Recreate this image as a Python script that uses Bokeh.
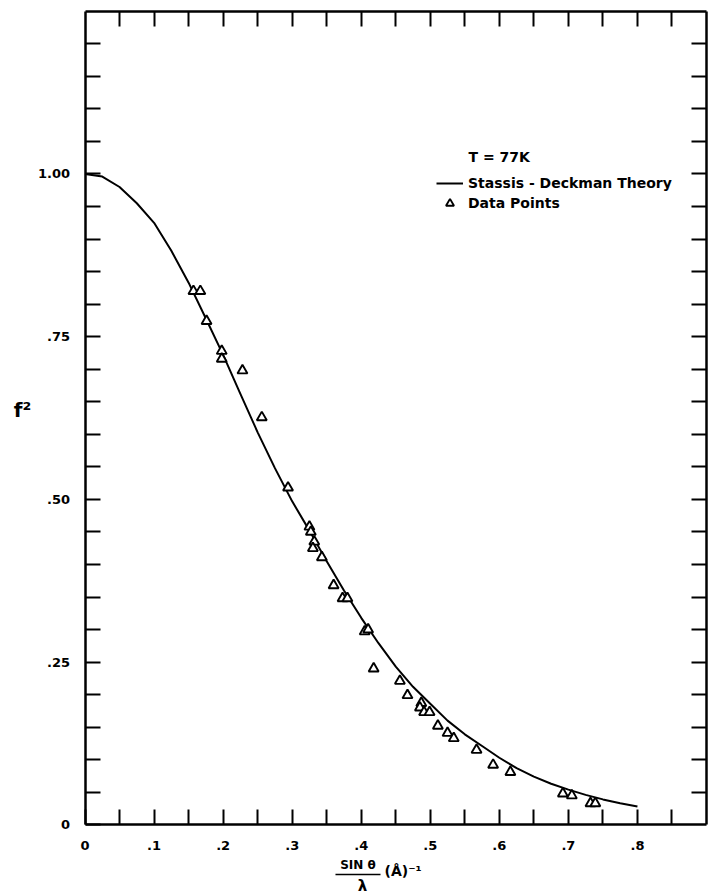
from bokeh.plotting import figure
from bokeh.models import Range1d, LinearAxis, FixedTicker, Legend
from bokeh.core.properties import value
from bokeh.embed import file_html
from bokeh.resources import INLINE

# ---- data ----
theory_s = [0.0, 0.025, 0.05, 0.075, 0.1, 0.125, 0.15, 0.175, 0.2, 0.225,
            0.25, 0.275, 0.3, 0.325, 0.35, 0.375, 0.4, 0.425, 0.45, 0.475,
            0.5, 0.525, 0.55, 0.575, 0.6, 0.625, 0.65, 0.675, 0.7, 0.725,
            0.75, 0.775, 0.8]
theory_f = [1.000, 0.996, 0.980, 0.955, 0.925, 0.882, 0.833, 0.778, 0.722,
            0.662, 0.603, 0.548, 0.497, 0.452, 0.405, 0.360, 0.318, 0.279,
            0.243, 0.212, 0.186, 0.160, 0.139, 0.121, 0.103, 0.087, 0.074,
            0.063, 0.054, 0.046, 0.039, 0.033, 0.028]

data_s = [0.157, 0.167, 0.176, 0.198, 0.198, 0.228, 0.256, 0.294, 0.325,
          0.327, 0.332, 0.330, 0.343, 0.360, 0.373, 0.380, 0.405, 0.410,
          0.418, 0.456, 0.467, 0.487, 0.485, 0.491, 0.499, 0.511, 0.525,
          0.534, 0.567, 0.591, 0.616, 0.692, 0.705, 0.732, 0.739]
data_f = [0.820, 0.820, 0.774, 0.728, 0.716, 0.698, 0.626, 0.518, 0.458,
          0.450, 0.435, 0.425, 0.411, 0.368, 0.348, 0.348, 0.297, 0.300,
          0.240, 0.221, 0.199, 0.187, 0.180, 0.173, 0.173, 0.152, 0.141,
          0.133, 0.115, 0.092, 0.081, 0.048, 0.045, 0.033, 0.033]

x_tick_values = [0.0, 0.1, 0.2, 0.3, 0.4, 0.5, 0.6, 0.7, 0.8]
x_tick_labels = ["0", ".1", ".2", ".3", ".4", ".5", ".6", ".7", ".8"]
x_minor_values = [0.05, 0.15, 0.25, 0.35, 0.45, 0.55, 0.65, 0.75, 0.85]
y_tick_values = [0.0, 0.25, 0.5, 0.75, 1.0]
y_tick_labels = ["0", ".25", ".50", ".75", "1.00"]
y_minor_values = [0.05, 0.10, 0.15, 0.20, 0.30, 0.35, 0.40, 0.45, 0.55,
                  0.60, 0.65, 0.70, 0.80, 0.85, 0.90, 0.95, 1.05, 1.10,
                  1.15, 1.20]
X_MAX = 0.9
Y_MAX = 1.25

FONT = "DejaVu Sans"
TICK_LEN = 15

# The frame fills the whole canvas; the drawn box is made of four axes.
p = figure(width=708, height=896, output_backend="svg", toolbar_location=None,
           x_range=Range1d(-0.1224, 0.9029), y_range=Range1d(-0.1102, 1.2666),
           min_border=0, min_border_left=0, min_border_right=0,
           min_border_top=0, min_border_bottom=0,
           x_axis_location=None, y_axis_location=None)
p.title.visible = False
p.xgrid.visible = False
p.ygrid.visible = False
p.outline_line_color = None
p.background_fill_color = "white"
p.border_fill_color = "white"


def style_axis(ax, show_labels, standoff=13):
    ax.major_tick_in = TICK_LEN
    ax.major_tick_out = 0
    ax.minor_tick_in = TICK_LEN
    ax.minor_tick_out = 0
    ax.major_tick_line_width = 2
    ax.minor_tick_line_width = 2
    ax.major_tick_line_color = "black"
    ax.minor_tick_line_color = "black"
    ax.axis_line_width = 2.5
    ax.axis_line_color = "black"
    if show_labels:
        ax.major_label_text_font = FONT
        ax.major_label_text_font_style = "bold"
        ax.major_label_text_font_size = "13px"
        ax.major_label_text_color = "black"
        ax.major_label_standoff = standoff
    else:
        ax.major_label_text_alpha = 0


xb = LinearAxis(ticker=FixedTicker(ticks=x_tick_values, minor_ticks=x_minor_values),
                major_label_overrides=dict(zip(x_tick_values, x_tick_labels)),
                fixed_location=0, bounds=(0, X_MAX))
style_axis(xb, True, 16)
p.add_layout(xb, "below")

yl = LinearAxis(ticker=FixedTicker(ticks=y_tick_values, minor_ticks=y_minor_values),
                major_label_overrides=dict(zip(y_tick_values, y_tick_labels)),
                fixed_location=0, bounds=(0, Y_MAX))
style_axis(yl, True, 15)
p.add_layout(yl, "left")

xt = LinearAxis(ticker=FixedTicker(ticks=[], minor_ticks=x_minor_values + x_tick_values[1:]),
                fixed_location=Y_MAX, bounds=(0, X_MAX))
style_axis(xt, False)
p.add_layout(xt, "above")

yr = LinearAxis(ticker=FixedTicker(ticks=[], minor_ticks=y_minor_values + y_tick_values[1:]),
                fixed_location=X_MAX, bounds=(0, Y_MAX))
style_axis(yr, False)
p.add_layout(yr, "right")

line_r = p.line(theory_s, theory_f, line_color="black", line_width=2)
pts_r = p.scatter(data_s, data_f, marker="triangle", size=10,
                  fill_color="white", line_color="black", line_width=1.9)

legend = Legend(items=[("Stassis - Deckman Theory", [line_r]),
                       ("Data Points", [pts_r])],
                location=(436, 683), glyph_width=27, glyph_height=20,
                label_height=20, label_standoff=5, spacing=0, padding=5,
                margin=0, border_line_color=None, background_fill_alpha=0,
                label_text_font=FONT, label_text_font_style="bold",
                label_text_font_size="14px", label_text_color="black")
p.add_layout(legend)

TXT = dict(text_font=value(FONT), text_font_style="bold", text_color="black")

p.text(x=[0.5553], y=[1.0255], text=["T = 77K"], text_font_size="14px",
       text_align="left", text_baseline="middle", **TXT)

# axis titles
p.text(x=[-0.0905], y=[0.6366], text=["f²"], text_font_size="20px",
       text_align="center", text_baseline="middle", **TXT)
p.text(x=[0.3953], y=[-0.0625], text=["SIN θ"], text_font_size="12px",
       text_align="center", text_baseline="middle", **TXT)
p.segment(x0=[0.3627], y0=[-0.0764], x1=[0.4279], y1=[-0.0764],
          line_color="black", line_width=1.6)
p.text(x=[0.4018], y=[-0.0948], text=["λ"], text_font_size="15px",
       text_align="center", text_baseline="middle", **TXT)
p.text(x=[0.4337], y=[-0.0703], text=["(Å)⁻¹"], text_font_size="14px",
       text_align="left", text_baseline="middle", **TXT)

open("out.html", "w").write(file_html(p, INLINE))
